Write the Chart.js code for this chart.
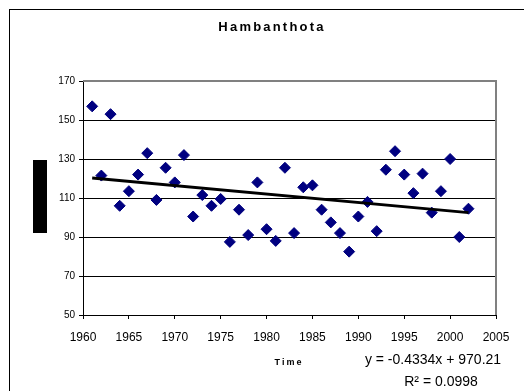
<!DOCTYPE html>
<html lang="en">
<head>
  <meta charset="UTF-8">
  <title>Hambanthota</title>
  <script src="https://cdn.jsdelivr.net/npm/chart.js"></script>
  <style>
    body {
      margin: 0;
      background: #fff;
    }
    #chart-container {
      width: 524px;
      height: 391px;
    }
  </style>
</head>
<body>
  <div id="chart-container">
    <canvas id="rainChart" width="524" height="391"></canvas>
  </div>

  <script>
    // values
    const years = [1961, 1962, 1963, 1964, 1965, 1966, 1967, 1968, 1969, 1970,
      1971, 1972, 1973, 1974, 1975, 1976, 1977, 1978, 1979, 1980,
      1981, 1982, 1983, 1984, 1985, 1986, 1987, 1988, 1989, 1990,
      1991, 1992, 1993, 1994, 1995, 1996, 1997, 1998, 1999, 2000,
      2001, 2002];
    const values = [157, 121.5, 153, 106, 113.5, 122, 133, 109, 125.5, 118,
      132, 100.5, 111.5, 106, 109.5, 87.5, 104, 91, 118, 94,
      88, 125.5, 92, 115.5, 116.5, 104, 97.5, 92, 82.5, 100.5,
      108, 93, 124.5, 134, 122, 112.5, 122.5, 102.5, 113.5, 130,
      90, 104.5];

    // linear trend line end points
    const trendYears = [1961, 2002];
    const trendValues = [120.3, 102.5];

    const chartTitle = "Hambanthota";
    const xTitle = "Time";
    const equationText = "y = -0.4334x + 970.21";
    const r2Text = "R² = 0.0998";

    const font = "'Liberation Sans', Arial, sans-serif";

    const decorations = {
      id: "decorations",
      beforeDraw(chart) {
        const ctx = chart.ctx;
        ctx.save();
        ctx.fillStyle = "#fff";
        ctx.fillRect(0, 0, chart.width, chart.height);
        // outer frame
        ctx.strokeStyle = "#000";
        ctx.lineWidth = 1;
        ctx.strokeRect(9.5, 9.5, 700, 700);
        ctx.restore();
      },
      afterDraw(chart) {
        const ctx = chart.ctx;
        const area = chart.chartArea;
        ctx.save();
        // top and right plot border
        ctx.strokeStyle = "#808080";
        ctx.lineWidth = 2;
        ctx.beginPath();
        ctx.moveTo(area.left, area.top);
        ctx.lineTo(area.right, area.top);
        ctx.lineTo(area.right, area.bottom);
        ctx.stroke();

        // y axis title box
        ctx.fillStyle = "#000";
        ctx.fillRect(33, 160, 14, 73);

        // chart title
        ctx.fillStyle = "#000";
        ctx.textAlign = "center";
        ctx.textBaseline = "middle";
        ctx.font = "bold 13px " + font;
        ctx.letterSpacing = "2.2px";
        ctx.fillText(chartTitle, 272, 27);

        ctx.font = "bold 9px " + font;
        ctx.letterSpacing = "2px";
        ctx.fillText(xTitle, 289, 363);

        ctx.letterSpacing = "0px";
        ctx.font = "14px " + font;
        ctx.fillText(equationText, 433, 360);
        ctx.fillText(r2Text, 441, 382);
        ctx.restore();
      }
    };

    const ctx = document.getElementById("rainChart").getContext("2d");

    new Chart(ctx, {
      type: "scatter",
      data: {
        datasets: [
          {
            label: "Hambanthota",
            data: years.map((y, i) => ({ x: y, y: values[i] })),
            pointStyle: "rectRot",
            pointRadius: 5.5,
            pointHoverRadius: 5.5,
            backgroundColor: "#000080",
            borderColor: "#000080",
            borderWidth: 1,
            order: 2
          },
          {
            label: "Linear",
            type: "line",
            data: trendYears.map((y, i) => ({ x: y, y: trendValues[i] })),
            borderColor: "#000",
            borderWidth: 3,
            pointRadius: 0,
            fill: false,
            order: 1
          }
        ]
      },
      options: {
        responsive: false,
        animation: false,
        events: [],
        layout: {
          padding: { top: 81, right: 28, left: 0, bottom: 0 }
        },
        plugins: {
          legend: { display: false },
          title: { display: false },
          tooltip: { enabled: false }
        },
        scales: {
          x: {
            type: "linear",
            min: 1960,
            max: 2005,
            afterFit(scale) { scale.height = 76; },
            ticks: {
              stepSize: 5,
              color: "#000",
              padding: 11,
              font: { family: font, size: 12 },
              maxRotation: 0,
              callback: (v) => String(v)
            },
            grid: {
              drawOnChartArea: false,
              drawTicks: true,
              tickLength: 4,
              color: "#000"
            },
            border: { color: "#000", width: 1 }
          },
          y: {
            min: 50,
            max: 170,
            afterFit(scale) { scale.width = 83; },
            ticks: {
              stepSize: 20,
              color: "#000",
              padding: 4,
              font: { family: font, size: 10 }
            },
            grid: {
              color: "#000",
              lineWidth: 1,
              tickLength: 4
            },
            border: { color: "#000", width: 1 }
          }
        }
      },
      plugins: [decorations]
    });
  </script>
</body>
</html>
